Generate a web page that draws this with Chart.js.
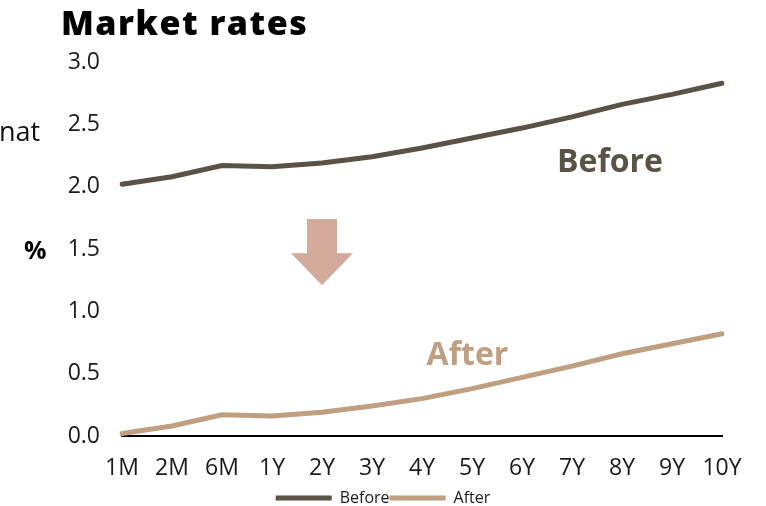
<!DOCTYPE html>
<html>
<head>
<meta charset="utf-8">
<script src="https://cdn.jsdelivr.net/npm/chart.js@4"></script>
<style>
  html, body { margin: 0; padding: 0; background: #fff; }
  #wrap { position: relative; width: 766px; height: 506px; overflow: hidden; }
  #chart { position: absolute; left: 0; top: 0; }
  .title {
    position: absolute; left: 61px; top: -1px;
    font: 800 34px "Open Sans", sans-serif; letter-spacing: 1.5px; color: #000;
  }
  .cut {
    position: absolute; left: -1px; top: 112px;
    font: 27px "Open Sans", sans-serif; color: #111;
  }
  .unit {
    position: absolute; left: 24px; top: 232px;
    font: bold 25px "Open Sans", sans-serif; color: #000;
  }
</style>
</head>
<body>
<div id="wrap">
  <canvas id="chart" width="766" height="506"></canvas>
  <div class="title">Market rates</div>
  <div class="cut">nat</div>
  <div class="unit">%</div>
</div>
<script>
const tenors = ["1M", "2M", "6M", "1Y", "2Y", "3Y", "4Y", "5Y", "6Y", "7Y", "8Y", "9Y", "10Y"];
const before = [2.02, 2.08, 2.17, 2.16, 2.19, 2.24, 2.31, 2.39, 2.47, 2.56, 2.66, 2.74, 2.83];
const after = [0.02, 0.08, 0.17, 0.16, 0.19, 0.24, 0.30, 0.38, 0.47, 0.56, 0.66, 0.74, 0.82];
const yTicks = [0, 0.5, 1.0, 1.5, 2.0, 2.5, 3.0];

const BEFORE_COLOR = "#595247";
const AFTER_COLOR = "#bf9f80";
const ARROW_COLOR = "#d4ab9b";
const FONT = "'Open Sans', sans-serif";

// series captions and the down arrow, placed in axis units
const annotations = {
  id: "annotations",
  afterDatasetsDraw(chart) {
    const { ctx, scales: { x, y } } = chart;
    ctx.save();

    // down arrow over 2Y
    const cx = x.getPixelForValue(4);
    const top = y.getPixelForValue(1.74);
    const neck = y.getPixelForValue(1.465);
    const tip = y.getPixelForValue(1.21);
    ctx.fillStyle = ARROW_COLOR;
    ctx.beginPath();
    ctx.moveTo(cx - 15, top);
    ctx.lineTo(cx + 15, top);
    ctx.lineTo(cx + 15, neck);
    ctx.lineTo(cx + 31, neck);
    ctx.lineTo(cx, tip);
    ctx.lineTo(cx - 31, neck);
    ctx.lineTo(cx - 15, neck);
    ctx.closePath();
    ctx.fill();

    ctx.font = "bold 32px " + FONT;
    ctx.textAlign = "center";
    ctx.textBaseline = "middle";
    ctx.fillStyle = BEFORE_COLOR;
    ctx.fillText("Before", x.getPixelForValue(9.76), y.getPixelForValue(2.19));
    ctx.fillStyle = AFTER_COLOR;
    ctx.fillText("After", x.getPixelForValue(6.91), y.getPixelForValue(0.64));
    ctx.restore();
  }
};

new Chart(document.getElementById("chart"), {
  type: "line",
  data: {
    labels: tenors,
    datasets: [
      {
        label: "Before",
        data: before,
        borderColor: BEFORE_COLOR,
        backgroundColor: BEFORE_COLOR,
        borderWidth: 5,
        borderCapStyle: "round",
        pointRadius: 0,
        tension: 0,
      },
      {
        label: "After",
        data: after,
        borderColor: AFTER_COLOR,
        backgroundColor: AFTER_COLOR,
        borderWidth: 5,
        borderCapStyle: "round",
        pointRadius: 0,
        tension: 0,
      },
    ],
  },
  options: {
    responsive: false,
    animation: false,
    // legend row sits low, so the bottom padding pulls it down a little
    layout: { padding: { left: 44, right: 44, top: 62, bottom: -10 } },
    plugins: {
      tooltip: { enabled: false },
      legend: {
        position: "bottom",
        labels: {
          usePointStyle: true,
          pointStyle: "line",
          pointStyleWidth: 56,
          padding: 0,
          color: "#1a1a1a",
          font: { family: FONT, size: 16 },
        },
      },
    },
    scales: {
      x: {
        grid: { display: false, drawTicks: false },
        border: { display: true, color: "#000", width: 2 },
        ticks: {
          color: "#1a1a1a",
          padding: 19,
          maxRotation: 0,
          autoSkip: false,
          font: { family: FONT, size: 23 },
        },
        afterFit: (s) => { s.height = 54; },
      },
      y: {
        min: 0,
        max: 3,
        afterBuildTicks: (s) => { s.ticks = yTicks.map((v) => ({ value: v })); },
        grid: { display: false, drawTicks: false },
        border: { display: false },
        ticks: {
          color: "#1a1a1a",
          padding: 22,
          font: { family: FONT, size: 23 },
          callback: (v) => v.toFixed(1),
        },
        afterFit: (s) => { s.width = 78; },
      },
    },
  },
  plugins: [annotations],
});
</script>
</body>
</html>
